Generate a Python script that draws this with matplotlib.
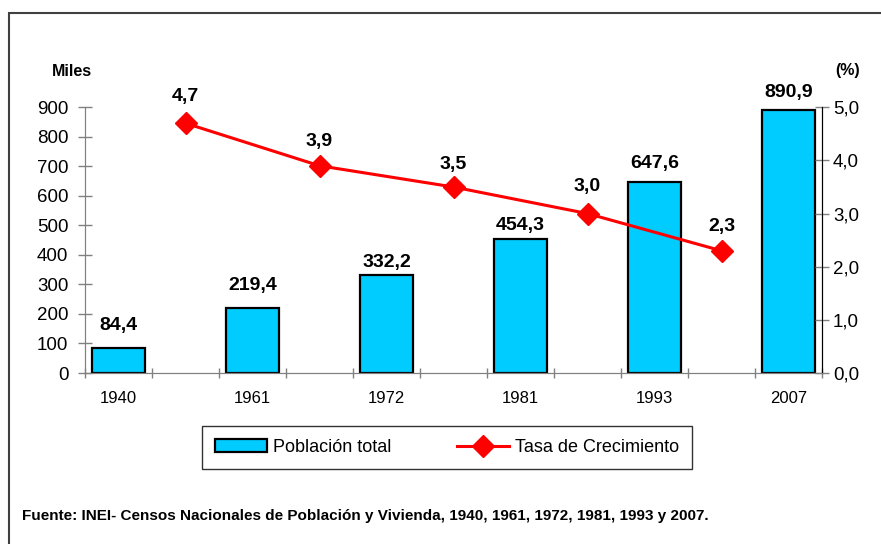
import matplotlib
matplotlib.use("Agg")
import matplotlib.pyplot as plt
from matplotlib.patches import Rectangle, Patch
from matplotlib.lines import Line2D

plt.rcParams['font.family'] = ['Liberation Sans', 'DejaVu Sans']

# datos del censo
anios = ['1940', '1961', '1972', '1981', '1993', '2007']
poblacion = [84.4, 219.4, 332.2, 454.3, 647.6, 890.9]
tasa = [4.7, 3.9, 3.5, 3.0, 2.3]
poblacion_txt = ['84,4', '219,4', '332,2', '454,3', '647,6', '890,9']
tasa_txt = ['4,7', '3,9', '3,5', '3,0', '2,3']
yticks_izq = [0, 100, 200, 300, 400, 500, 600, 700, 800, 900]
yticks_der = [0.0, 1.0, 2.0, 3.0, 4.0, 5.0]

# offsets (px) de las etiquetas, tal como estan en el grafico original
off_barras = [23, 23, 12, 13, 18, 17]
off_linea = [27, 24, 23, 27, 24]

fig = plt.figure(figsize=(8.81, 5.44), dpi=100)
W, H = 881, 544
ax = fig.add_axes([85 / W, 1 - 373 / H, (822 - 85) / W, (373 - 107.3) / H])
ax2 = ax.twinx()

x = list(range(len(anios)))
xl = [i + 0.5 for i in range(len(tasa))]

ax.bar(x, poblacion, width=0.395, color='#00CCFF', edgecolor='black', linewidth=1.6, zorder=2)
for i, v in enumerate(poblacion):
    ax.annotate(poblacion_txt[i], (x[i], v), xytext=(0, off_barras[i]), textcoords='offset pixels',
                ha='center', va='center', fontsize=14, fontweight='bold')

ax2.plot(xl, tasa, color='#FF0000', lw=2.2, marker='D', ms=11, mec='#FF0000', mfc='#FF0000')
for i, v in enumerate(tasa):
    ax2.annotate(tasa_txt[i], (xl[i], v), xytext=(0, off_linea[i]), textcoords='offset pixels',
                 ha='center', va='center', fontsize=14, fontweight='bold')

ax.set_xlim(-0.25, 5.25)
ax.set_ylim(0, 900)
ax2.set_ylim(0, 5.0)
ax.set_yticks(yticks_izq)
ax.set_yticklabels([str(t) for t in yticks_izq], fontsize=13.5)
ax2.set_yticks(yticks_der)
ax2.set_yticklabels([('%.1f' % t).replace('.', ',') for t in yticks_der], fontsize=13.5)

ax.set_xticks(x)
ax.set_xticklabels(anios, fontsize=12)
ax.set_xticks([i * 0.5 - 0.25 for i in range(12)], minor=True)
ax.tick_params(axis='x', which='major', length=0, pad=13)
ax.tick_params(axis='x', which='minor', direction='inout', length=7, width=1, color='#808080')
ax.tick_params(axis='y', direction='inout', length=10, width=1, color='#808080', pad=7)
ax2.tick_params(axis='y', direction='inout', length=10, width=1, color='#808080', pad=3)

for a in (ax, ax2):
    a.spines['top'].set_visible(False)
    a.spines['left'].set_color('#808080')
    a.spines['bottom'].set_color('#808080')
    a.spines['right'].set_color('black')
    a.patch.set_visible(False)

fig.text(72 / W, 1 - 71 / H, 'Miles', ha='center', va='center', fontsize=11.5, fontweight='bold')
fig.text(848 / W, 1 - 71 / H, '(%)', ha='center', va='center', fontsize=11.5, fontweight='bold')

handles = [Patch(facecolor='#00CCFF', edgecolor='black', linewidth=1.6),
           Line2D([], [], color='#FF0000', lw=2.2, marker='D', ms=11)]
leg = fig.legend(handles, ['Población total', 'Tasa de Crecimiento'], loc='center',
                 bbox_to_anchor=(447 / W, 1 - 447.5 / H), ncol=2, fontsize=13,
                 frameon=True, fancybox=False, edgecolor='black', handlelength=2.9,
                 handletextpad=0.35, columnspacing=3.6, borderpad=0.7)
leg.get_frame().set_linewidth(1.0)

fig.text(22 / W, 1 - 516 / H,
         'Fuente: INEI- Censos Nacionales de Población y Vivienda, 1940, 1961, 1972, 1981, 1993 y 2007.',
         ha='left', va='center', fontsize=11, fontweight='bold')

fig.patches.append(Rectangle((9 / W, -0.1), 1.2, 1.1 - 13 / H, transform=fig.transFigure,
                             fill=False, edgecolor='#404040', linewidth=1.5))

fig.savefig('out.png', dpi=100)
